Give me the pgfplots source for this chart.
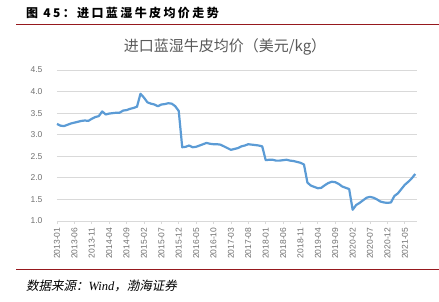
\documentclass[border=0pt]{standalone}
\usepackage{pgfplots}
\pgfplotsset{compat=1.18}
\usepackage{pgfplotstable}
\usepackage{fontspec}
\setmainfont{Liberation Sans}
\newfontfamily\serifit{Liberation Serif}
\newfontfamily\cjk{Noto Sans CJK SC}
\newfontfamily\cjkit{Noto Sans CJK SC}[FakeSlant=0.2]
\definecolor{darkred}{RGB}{150,25,30}
\definecolor{lineblue}{RGB}{91,155,213}
\definecolor{gridgray}{RGB}{217,217,217}
\definecolor{txtgray}{RGB}{112,112,112}
\definecolor{titlegray}{RGB}{89,89,89}
\pgfplotstableread{
i v
0 3.25
1 3.21
2 3.20
3 3.23
4 3.26
5 3.28
6 3.30
7 3.32
8 3.33
9 3.32
10 3.37
11 3.41
12 3.43
13 3.54
14 3.47
15 3.49
16 3.50
17 3.51
18 3.51
19 3.56
20 3.57
21 3.60
22 3.62
23 3.65
24 3.95
25 3.86
26 3.75
27 3.72
28 3.70
29 3.66
30 3.70
31 3.71
32 3.73
33 3.72
34 3.66
35 3.55
36 2.71
37 2.72
38 2.75
39 2.71
40 2.72
41 2.75
42 2.78
43 2.81
44 2.79
45 2.78
46 2.78
47 2.77
48 2.73
49 2.69
50 2.65
51 2.67
52 2.69
53 2.73
54 2.75
55 2.78
56 2.77
57 2.76
58 2.75
59 2.73
60 2.41
61 2.42
62 2.42
63 2.40
64 2.40
65 2.41
66 2.42
67 2.40
68 2.39
69 2.37
70 2.35
71 2.31
72 1.89
73 1.82
74 1.79
75 1.76
76 1.77
77 1.83
78 1.88
79 1.91
80 1.90
81 1.86
82 1.80
83 1.77
84 1.74
85 1.26
86 1.37
87 1.42
88 1.48
89 1.54
90 1.56
91 1.54
92 1.50
93 1.45
94 1.43
95 1.42
96 1.43
97 1.58
98 1.64
99 1.74
100 1.84
101 1.91
102 1.99
103 2.09
}\pricetable
\begin{document}
\begin{tikzpicture}
\useasboundingbox (0pt,0pt) rectangle (439pt,-301pt);
\node[anchor=west, inner sep=0pt] at (26pt,-13pt) {\cjk\bfseries\addfontfeatures{LetterSpace=20}\fontsize{12}{14}\selectfont 图 45：进口蓝湿牛皮均价走势};
\draw[darkred, line width=1.5pt] (16pt,-24.5pt) -- (439pt,-24.5pt);
\node[inner sep=0pt, text=titlegray] at (225pt,-47pt) {\cjk\fontsize{15}{17}\selectfont 进口蓝湿牛皮均价（美元/kg）};
\begin{axis}[
  at={(57pt,-221pt)}, anchor=south west,
  scale only axis, width=360pt, height=151pt,
  xmin=0, xmax=103.5, ymin=1, ymax=4.5,
  axis line style={draw=none},
  ymajorgrids, grid style={draw=gridgray, line width=0.8pt},
  ytick={1,1.5,...,4.5},
  yticklabel style={/pgf/number format/fixed, /pgf/number format/fixed zerofill, /pgf/number format/precision=1, /pgf/number format/assume math mode=true, font=\fontsize{8.5}{10}\selectfont, text=txtgray, xshift=-8pt},
  xtick={0,5,...,100},
  xticklabels={2013-01,2013-06,2013-11,2014-04,2014-09,2015-02,2015-07,2015-12,2016-05,2016-10,2017-03,2017-08,2018-01,2018-06,2018-11,2019-04,2019-09,2020-02,2020-07,2020-12,2021-05},
  xticklabel style={rotate=90, anchor=east, font=\fontsize{8.5}{10}\selectfont, text=txtgray},
  tick pos=left, tick align=outside, major tick length=3pt,
  xtick style={draw=gridgray, line width=0.8pt}, ytick style={draw=none},
  clip=false,
]
\addplot[lineblue, line width=2.2pt, line join=round] table[x=i, y=v] {\pricetable};
\draw[gridgray, line width=0.8pt] (axis cs:0,1) -- (axis cs:103.5,1);
\end{axis}
\draw[darkred, line width=1.5pt] (16pt,-269.5pt) -- (439pt,-269.5pt);
\node[anchor=west, inner sep=0pt] at (26pt,-286pt) {\cjkit\fontsize{12.5}{14}\selectfont 数据来源：{\serifit\itshape Wind}，渤海证券};
\end{tikzpicture}
\end{document}
